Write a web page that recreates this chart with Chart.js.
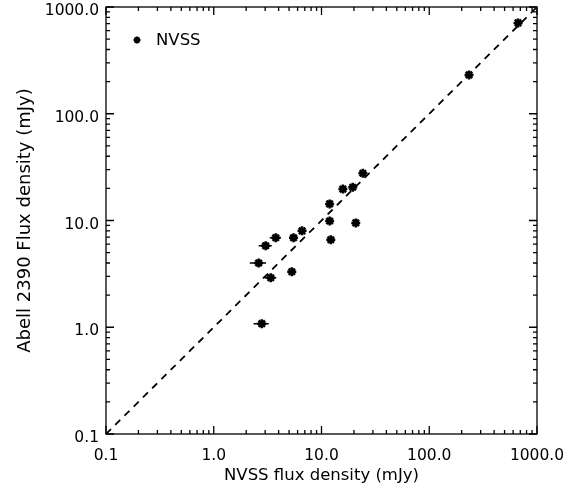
<!DOCTYPE html>
<html>
<head>
<meta charset="utf-8">
<script src="https://cdn.jsdelivr.net/npm/chart.js@4"></script>
<style>
  html, body { margin: 0; padding: 0; background: #fff; }
  #wrap { width: 579px; height: 487px; }
</style>
</head>
<body>
<div id="wrap"><canvas id="flux"></canvas></div>
<script>
// NVSS flux (x) vs Abell 2390 flux (y), mJy
const nvssFlux  = [667, 234, 24.2, 19.5, 15.8, 11.9, 11.9, 12.2, 20.8, 6.6, 5.5, 3.76, 3.03, 2.61, 3.38, 5.3, 2.79];
const abellFlux = [710, 231, 27.7, 20.5, 19.7, 14.3, 9.9, 6.6, 9.5, 8.0, 6.9, 6.9, 5.8, 4.0, 2.91, 3.31, 1.08];
const nvssErr   = [20, 7.0, 0.9, 0.7, 0.6, 0.55, 0.55, 0.55, 0.7, 0.5, 0.5, 0.45, 0.42, 0.45, 0.42, 0.45, 0.45];
const abellErr  = [8, 3, 0.4, 0.3, 0.3, 0.2, 0.2, 0.15, 0.2, 0.15, 0.15, 0.15, 0.12, 0.1, 0.08, 0.08, 0.05];
const oneToOne  = [0.1, 1000];
const decades   = [0.1, 1, 10, 100, 1000];

const FONT = "'DejaVu Sans', sans-serif";

const points = nvssFlux.map((x, i) => ({ x: x, y: abellFlux[i] }));

// error bars under the markers
const errorBars = {
    id: 'errorBars',
    beforeDatasetsDraw(chart) {
        const xs = chart.scales.x, ys = chart.scales.y, ctx = chart.ctx;
        ctx.save();
        ctx.strokeStyle = '#000';
        ctx.lineWidth = 1.5;
        nvssFlux.forEach((x, i) => {
            const y = abellFlux[i];
            const py = ys.getPixelForValue(y), px = xs.getPixelForValue(x);
            ctx.beginPath();
            ctx.moveTo(xs.getPixelForValue(x - nvssErr[i]), py);
            ctx.lineTo(xs.getPixelForValue(x + nvssErr[i]), py);
            ctx.moveTo(px, ys.getPixelForValue(y - abellErr[i]));
            ctx.lineTo(px, ys.getPixelForValue(y + abellErr[i]));
            ctx.stroke();
        });
        ctx.restore();
    }
};

// IDL style box with inward ticks, plus the legend
const frame = {
    id: 'frame',
    afterDraw(chart) {
        const a = chart.chartArea, xs = chart.scales.x, ys = chart.scales.y, ctx = chart.ctx;
        ctx.save();
        ctx.strokeStyle = '#000';
        ctx.lineWidth = 1.3;
        ctx.strokeRect(a.left, a.top, a.right - a.left, a.bottom - a.top);
        ctx.beginPath();
        for (let d = 0; d < decades.length; d++) {
            for (let m = 1; m <= 9; m++) {
                const v = decades[d] * m;
                if (v > 1000) break;
                const len = m === 1 ? 8 : 4;
                const px = xs.getPixelForValue(v);
                ctx.moveTo(px, a.bottom); ctx.lineTo(px, a.bottom - len);
                ctx.moveTo(px, a.top); ctx.lineTo(px, a.top + len);
                const py = ys.getPixelForValue(v);
                ctx.moveTo(a.left, py); ctx.lineTo(a.left + len, py);
                ctx.moveTo(a.right, py); ctx.lineTo(a.right - len, py);
            }
        }
        ctx.stroke();

        // legend
        const lx = a.left + 31, ly = a.top + 33;
        ctx.lineWidth = 2;
        ctx.beginPath();
        ctx.moveTo(lx - 3.5, ly); ctx.lineTo(lx + 3.5, ly);
        ctx.moveTo(lx, ly - 3.5); ctx.lineTo(lx, ly + 3.5);
        ctx.moveTo(lx - 2.5, ly - 2.5); ctx.lineTo(lx + 2.5, ly + 2.5);
        ctx.moveTo(lx - 2.5, ly + 2.5); ctx.lineTo(lx + 2.5, ly - 2.5);
        ctx.stroke();
        ctx.fillStyle = '#000';
        ctx.font = '16.5px ' + FONT;
        ctx.textBaseline = 'middle';
        ctx.fillText('NVSS', lx + 19, ly + 1);
        ctx.restore();
    }
};

new Chart(document.getElementById('flux'), {
    type: 'scatter',
    data: {
        datasets: [
            {
                label: 'NVSS',
                data: points,
                pointStyle: 'star',
                pointRadius: 4.5,
                pointHoverRadius: 4.5,
                borderColor: '#000',
                backgroundColor: '#000',
                borderWidth: 2.5
            },
            {
                type: 'line',
                label: '1:1',
                data: oneToOne.map(v => ({ x: v, y: v })),
                borderColor: '#000',
                borderWidth: 1.8,
                borderDash: [7, 6],
                pointRadius: 0,
                fill: false
            }
        ]
    },
    options: {
        responsive: true,
        maintainAspectRatio: false,
        animation: false,
        layout: { padding: { left: 0, right: 42, top: 5, bottom: 0 } },
        plugins: {
            legend: { display: false },
            tooltip: { enabled: false }
        },
        scales: {
            x: {
                type: 'logarithmic',
                min: 0.1,
                max: 1000,
                grid: { display: false, drawTicks: false },
                border: { display: false },
                afterFit: s => { s.height = 53; s.paddingLeft = 0; s.paddingRight = 0; },
                afterBuildTicks: s => { s.ticks = decades.map(v => ({ value: v })); },
                ticks: {
                    autoSkip: false,
                    maxRotation: 0,
                    padding: 13,
                    color: '#000',
                    font: { family: FONT, size: 15.5 },
                    callback: v => Number(v).toFixed(1)
                },
                title: {
                    display: true,
                    text: 'NVSS flux density (mJy)',
                    color: '#000',
                    font: { family: FONT, size: 16.5 },
                    padding: { top: 0, bottom: 1 }
                }
            },
            y: {
                type: 'logarithmic',
                min: 0.1,
                max: 1000,
                grid: { display: false, drawTicks: false },
                border: { display: false },
                afterFit: s => { s.width = 106; s.paddingTop = 0; s.paddingBottom = 0; },
                afterBuildTicks: s => { s.ticks = decades.map(v => ({ value: v })); },
                ticks: {
                    autoSkip: false,
                    padding: 7,
                    labelOffset: 4,
                    color: '#000',
                    font: { family: FONT, size: 15.5 },
                    callback: v => Number(v).toFixed(1)
                },
                title: {
                    display: true,
                    text: 'Abell 2390 Flux density (mJy)',
                    color: '#000',
                    font: { family: FONT, size: 18 },
                    padding: { top: 15, bottom: 0 }
                }
            }
        }
    },
    plugins: [errorBars, frame]
});
</script>
</body>
</html>
